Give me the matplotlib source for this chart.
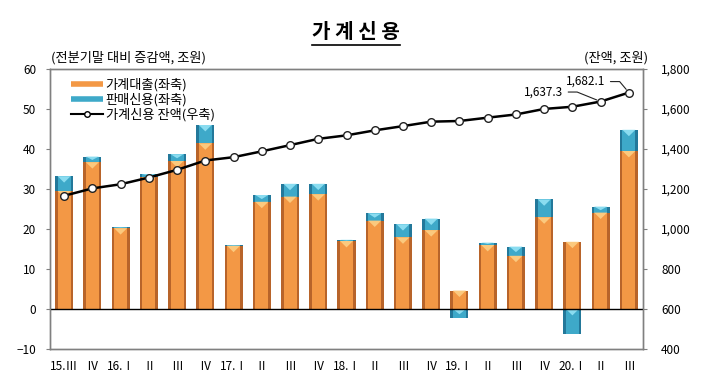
import matplotlib
matplotlib.use("Agg")
import matplotlib.pyplot as plt
from matplotlib.lines import Line2D
from matplotlib.ticker import FuncFormatter, FixedLocator

plt.rcParams['font.family'] = ['Noto Sans CJK KR', 'DejaVu Sans']

# ---------------- data ----------------
quarters = ["15.Ⅲ", "Ⅳ", "16.Ⅰ", "Ⅱ", "Ⅲ", "Ⅳ", "17.Ⅰ", "Ⅱ", "Ⅲ", "Ⅳ",
            "18.Ⅰ", "Ⅱ", "Ⅲ", "Ⅳ", "19.Ⅰ", "Ⅱ", "Ⅲ", "Ⅳ", "20.Ⅰ", "Ⅱ", "Ⅲ"]
loans = [29.5, 36.7, 20.2, 32.9, 37.0, 41.4, 15.8, 26.8, 28.1, 28.7,
         17.0, 22.1, 17.9, 19.7, 4.6, 16.0, 13.3, 22.9, 16.8, 24.1, 39.5]
sales_credit = [3.7, 1.4, 0.2, 0.8, 1.7, 4.6, 0.2, 1.7, 3.2, 2.6,
                0.3, 1.8, 3.3, 2.9, -2.2, 0.6, 2.3, 4.5, -6.2, 1.5, 5.3]
balance = [1166.0, 1203.0, 1223.7, 1257.3, 1295.8, 1342.5, 1359.1, 1388.3,
           1419.3, 1450.8, 1468.2, 1493.2, 1514.4, 1536.7, 1540.0, 1556.7,
           1572.7, 1600.3, 1611.3, 1637.3, 1682.1]
left_ticks = [-10, 0, 10, 20, 30, 40, 50, 60]
right_ticks = [400, 600, 800, 1000, 1200, 1400, 1600, 1800]
labels = ["가계대출(좌축)", "판매신용(좌축)", "가계신용 잔액(우축)"]
title = "가 계 신 용"
left_unit = "(전분기말 대비 증감액, 조원)"
right_unit = "(잔액, 조원)"

# ---------------- style ----------------
OR_BASE, OR_DARK, OR_LIGHT = "#F39845", "#B8642A", "#FBC97E"
TE_BASE, TE_DARK, TE_LIGHT = "#3EA9C9", "#23789A", "#8ADCF0"
W = 0.64
SIDE = 0.09

fig = plt.figure(figsize=(7.10, 3.91), dpi=100)
ax = fig.add_axes([50 / 710, 1 - 349 / 391, 593 / 710, 280 / 391])
ax2 = ax.twinx()

x = list(range(len(quarters)))


def bevel(xs, bottoms, heights, base, dark, light):
    ax.bar(xs, heights, bottom=bottoms, width=W, color=dark, linewidth=0, zorder=2)
    ax.bar(xs, heights, bottom=bottoms, width=W - 2 * SIDE, color=base, linewidth=0, zorder=3)
    for xi, b, h in zip(xs, bottoms, heights):
        if h == 0:
            continue
        top = max(b, b + h)
        d = min(1.6, abs(h) * 0.6)
        ax.fill([xi - W / 2 + SIDE, xi + W / 2 - SIDE, xi],
                [top, top, top - d], color=light, linewidth=0, zorder=4)


bevel(x, [0] * len(x), loans, OR_BASE, OR_DARK, OR_LIGHT)
s_bottom = [l if s > 0 else 0 for l, s in zip(loans, sales_credit)]
bevel(x, s_bottom, sales_credit, TE_BASE, TE_DARK, TE_LIGHT)

ax.axhline(0, color="black", lw=1.0, zorder=5)

ax.set_xlim(-0.5, len(quarters) - 0.5)
ax.set_ylim(-10, 60)
ax.yaxis.set_major_locator(FixedLocator(left_ticks))
ax.set_xticks(x)
ax.set_xticklabels(quarters, fontsize=8.5)
ax.tick_params(axis='x', length=0, pad=8)
ax.tick_params(axis='y', length=3, color="#808080", labelsize=8.5, pad=7)

ax2.set_ylim(400, 1800)
ax2.yaxis.set_major_locator(FixedLocator(right_ticks))
ax2.yaxis.set_major_formatter(FuncFormatter(lambda v, p: f"{v:,.0f}"))
ax2.tick_params(axis='y', length=3, color="#808080", labelsize=8.5, pad=10)
ax2.plot(x, balance, color="black", lw=1.8, marker="o", markersize=5.5,
         markerfacecolor="white", markeredgecolor="#222222", markeredgewidth=1.0,
         zorder=6)

for a in (ax, ax2):
    for sp in a.spines.values():
        sp.set_color("#808080")
        sp.set_linewidth(1.0)

ax.set_zorder(ax2.get_zorder() - 1)
ax2.patch.set_visible(False)
ax.patch.set_visible(True)

# annotations on last two balance points
ax2.annotate(f"{balance[-1]:,.1f}", xy=(x[-1], balance[-1]),
             xytext=(-24, 11), textcoords="offset pixels", ha="right", va="center",
             fontsize=8.5, zorder=7,
             arrowprops=dict(arrowstyle="-", color="#222222", lw=0.8,
                             connectionstyle="angle,angleA=0,angleB=-50,rad=0",
                             relpos=(1, 0.5), shrinkA=2, shrinkB=3))
ax2.annotate(f"{balance[-2]:,.1f}", xy=(x[-2], balance[-2]),
             xytext=(-38, 9.5), textcoords="offset pixels", ha="right", va="center",
             fontsize=8.5, zorder=7,
             arrowprops=dict(arrowstyle="-", color="#222222", lw=0.8,
                             connectionstyle="angle,angleA=0,angleB=-22,rad=0",
                             relpos=(1, 0.5), shrinkA=2, shrinkB=3))

# units
fig.text(51 / 710, 1 - 58 / 391, left_unit, fontsize=9.5, ha="left", va="center")
fig.text(648 / 710, 1 - 58 / 391, right_unit, fontsize=9.5, ha="right", va="center")

# title with underline
t = fig.text(356 / 710, 1 - 32 / 391, title, fontsize=14.5, fontweight="bold",
             ha="center", va="center")
fig.canvas.draw()
bb = t.get_window_extent()
fig.add_artist(Line2D([bb.x0 / fig.bbox.width, bb.x1 / fig.bbox.width],
                      [1 - 45 / 391, 1 - 45 / 391], color="black", lw=1.2,
                      transform=fig.transFigure))

# legend
handles = [
    Line2D([], [], color=OR_BASE, lw=4, solid_capstyle="butt"),
    Line2D([], [], color=TE_BASE, lw=4, solid_capstyle="butt"),
    Line2D([], [], color="black", lw=1.5, marker="o", markersize=4,
           markerfacecolor="white", markeredgecolor="black"),
]
fig.legend(handles, labels, loc="upper left", bbox_to_anchor=(62 / 710, 1 - 69 / 391),
           frameon=False, fontsize=9.5, handlelength=2.4, handletextpad=0.2,
           labelspacing=0.12, borderpad=0.2)

fig.savefig("out.png", dpi=100)
